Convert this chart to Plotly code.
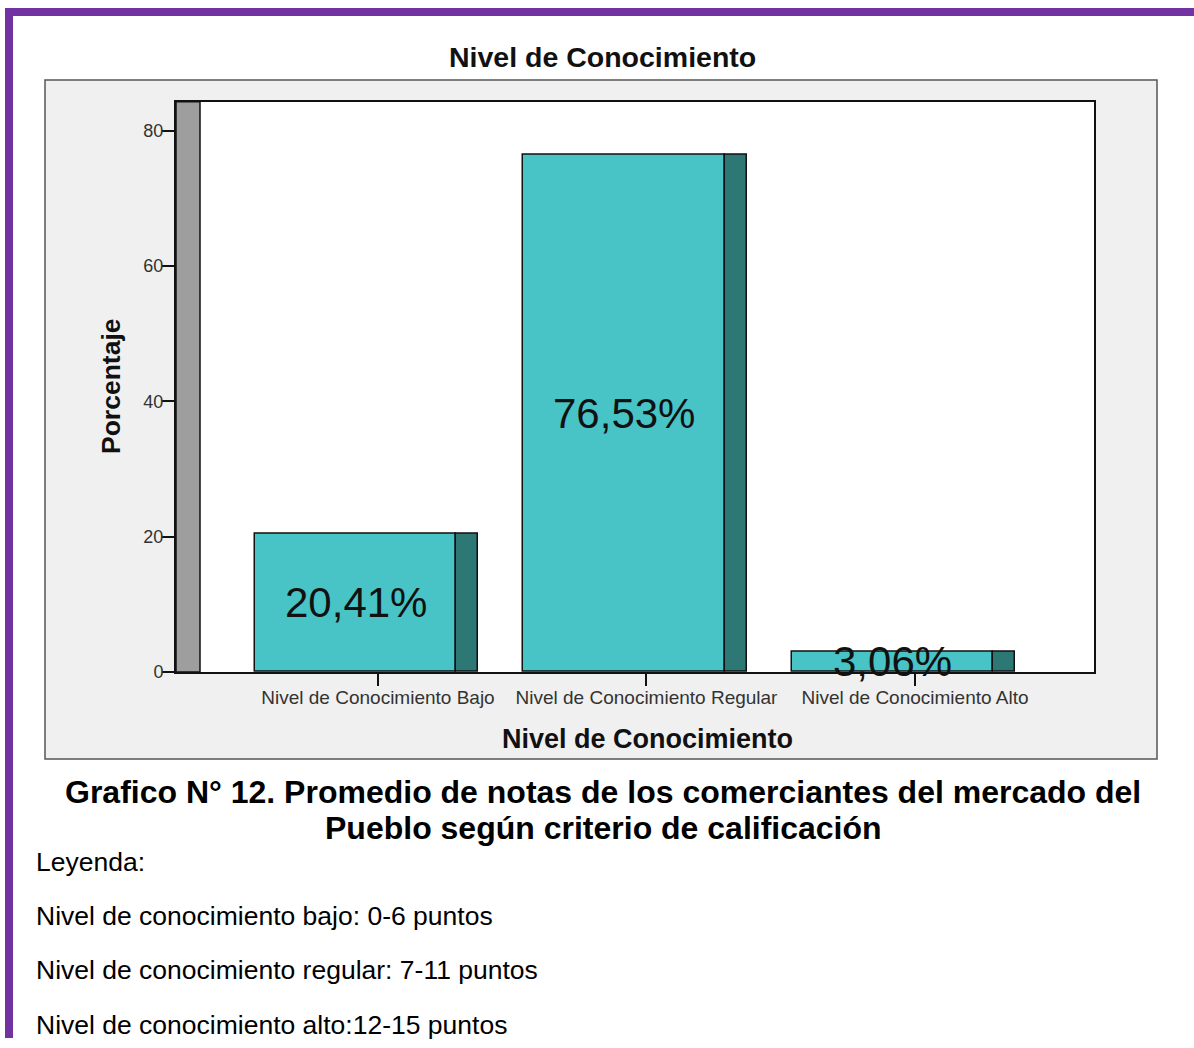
import plotly.graph_objects as go

# ---------------- data ----------------
categories = ["Nivel de Conocimiento Bajo", "Nivel de Conocimiento Regular", "Nivel de Conocimiento Alto"]
percentages = [20.41, 76.53, 3.06]
y_ticks = [0, 20, 40, 60, 80]
chart_title = "Nivel de Conocimiento"
x_title = "Nivel de Conocimiento"
y_title = "Porcentaje"
caption_lines = ["Grafico N° 12. Promedio de notas de los comerciantes del mercado del",
                 "Pueblo según criterio de calificación"]
legend_lines = ["Leyenda:",
                "Nivel de conocimiento bajo: 0-6 puntos",
                "Nivel de conocimiento regular: 7-11 puntos",
                "Nivel de conocimiento alto:12-15 puntos"]

# ---------------- layout constants ----------------
W, H = 1194, 1048
H_EFF = 1038  # observed vertical scale of the captured page
FONT = "Liberation Sans, Arial, sans-serif"
FRONT = "#48C3C6"
SIDE = "#2D7774"
WALL = "#9E9E9E"
PURPLE = "#7232A1"

def px(x):
    return x / W

def py(y):
    return 1 - y / H_EFF

x_range = [-0.7523, 2.6667]
y_range = [0, 84.3]
front_off, front_w = -0.0829, 0.7505
side_off, side_w = 0.3333, 0.0819
wall_x1 = -0.6629

idx = list(range(len(categories)))

fig = go.Figure()
fig.add_trace(go.Bar(
    x=[i + front_off for i in idx], y=percentages, width=[front_w] * len(idx),
    marker=dict(color=FRONT, line=dict(color="#111111", width=1.5)),
    hoverinfo="skip", showlegend=False))
fig.add_trace(go.Bar(
    x=[i + side_off for i in idx], y=percentages, width=[side_w] * len(idx),
    marker=dict(color=SIDE, line=dict(color="#111111", width=1.5)),
    hoverinfo="skip", showlegend=False))

annotations = []
for i, v in zip(idx, percentages):
    annotations.append(dict(
        x=i + front_off, y=v / 2, xref="x", yref="y",
        text=f"{v:.2f}".replace(".", ",") + "%", showarrow=False,
        font=dict(family=FONT, size=42, color="#111111"),
        xanchor="center", yanchor="middle"))

annotations += [
    dict(x=px(602), y=py(57), xref="paper", yref="paper", text=f"<b>{chart_title}</b>",
         showarrow=False, font=dict(family=FONT, size=28.5, color="#111111"),
         xanchor="center", yanchor="middle"),
    dict(x=px(647), y=py(739), xref="paper", yref="paper", text=f"<b>{x_title}</b>",
         showarrow=False, font=dict(family=FONT, size=27, color="#111111"),
         xanchor="center", yanchor="middle"),
    dict(x=px(111), y=py(386), xref="paper", yref="paper", text=f"<b>{y_title}</b>",
         showarrow=False, textangle=-90, font=dict(family=FONT, size=26.5, color="#111111"),
         xanchor="center", yanchor="middle"),
    dict(x=px(603), y=py(792), xref="paper", yref="paper", text=f"<b>{caption_lines[0]}</b>",
         showarrow=False, font=dict(family=FONT, size=32, color="#000000"),
         xanchor="center", yanchor="middle"),
    dict(x=px(603), y=py(828), xref="paper", yref="paper", text=f"<b>{caption_lines[1]}</b>",
         showarrow=False, font=dict(family=FONT, size=32, color="#000000"),
         xanchor="center", yanchor="middle"),
]
for t, yy in zip(legend_lines, [862, 916, 970, 1025]):
    annotations.append(dict(x=px(34), y=py(yy), xref="paper", yref="paper", text=t,
                            showarrow=False, font=dict(family=FONT, size=26.5, color="#000000"),
                            xanchor="left", yanchor="middle"))

shapes = [
    # purple page border
    dict(type="rect", xref="paper", yref="paper", x0=px(5), x1=1.0, y0=py(16), y1=py(8),
         fillcolor=PURPLE, line=dict(width=0), layer="below"),
    dict(type="rect", xref="paper", yref="paper", x0=px(5), x1=px(13), y0=0, y1=py(8),
         fillcolor=PURPLE, line=dict(width=0), layer="below"),
    # chart frame
    dict(type="rect", xref="paper", yref="paper", x0=px(45), x1=px(1157), y0=py(759), y1=py(80),
         fillcolor="#F0F0F0", line=dict(color="#555555", width=1.5), layer="below"),
    # white plot area
    dict(type="rect", xref="paper", yref="paper", x0=px(176), x1=px(1094), y0=py(672), y1=py(101.7),
         fillcolor="#FFFFFF", line=dict(width=0), layer="below"),
    # 3D side wall
    dict(type="rect", xref="x", yref="y domain", x0=x_range[0], x1=wall_x1, y0=0, y1=1,
         fillcolor=WALL, line=dict(color="#111111", width=1.5), layer="below"),
]

fig.update_layout(
    width=W, height=H, autosize=False,
    margin=dict(l=0, r=0, t=0, b=0),
    paper_bgcolor="#FFFFFF", plot_bgcolor="rgba(0,0,0,0)",
    barmode="overlay", bargap=0,
    showlegend=False,
    annotations=annotations, shapes=shapes,
    xaxis=dict(domain=[px(176), px(1094)], range=x_range, tickmode="array",
               tickvals=idx, ticktext=categories, ticks="outside", ticklen=12,
               tickwidth=1.5, tickcolor="#111111", showgrid=False, zeroline=False,
               showline=True, linecolor="#111111", linewidth=2, mirror=True,
               ticklabelstandoff=-5,
               tickfont=dict(family=FONT, size=19, color="#333333")),
    yaxis=dict(domain=[py(672), py(101.7)], range=y_range, tickmode="array",
               tickvals=y_ticks, ticks="outside", ticklen=12, tickwidth=1.5,
               tickcolor="#111111", showgrid=False, zeroline=False,
               showline=True, linecolor="#111111", linewidth=2, mirror=True,
               ticklabelstandoff=-5,
               tickfont=dict(family=FONT, size=18, color="#333333")),
)

fig.write_html("out.html",
               config={"displayModeBar": False, "responsive": False},
               post_script="document.body.style.margin='0';document.body.style.padding='0';document.body.style.overflow='hidden';")
